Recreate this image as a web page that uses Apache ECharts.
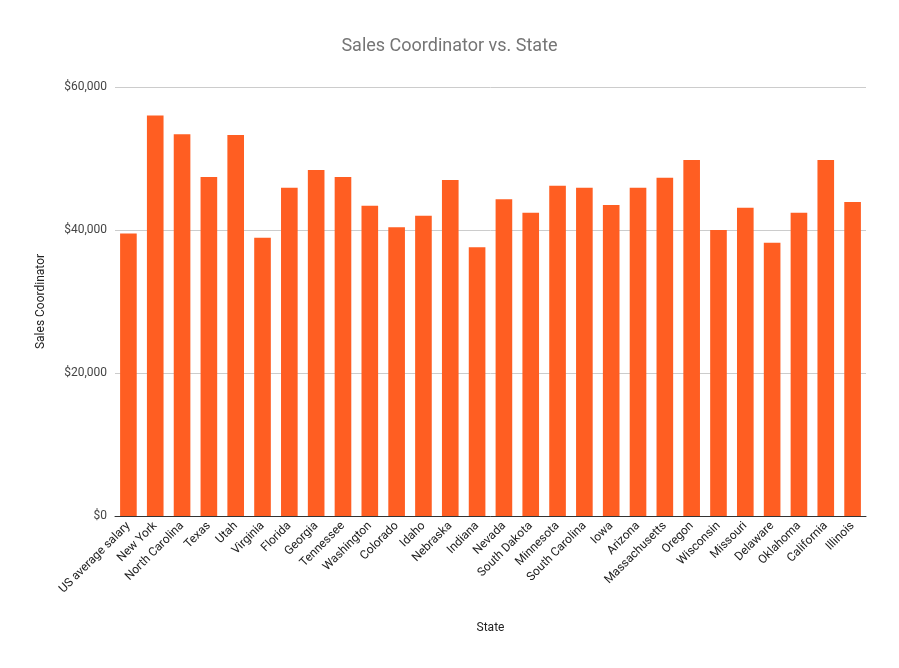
<!DOCTYPE html>
<html>
<head>
<meta charset="utf-8">
<script src="https://cdn.jsdelivr.net/npm/echarts@6/dist/echarts.min.js"></script>
<style>html,body{margin:0;background:#fff}#c{width:899px;height:668px}</style>
</head>
<body>
<div id="c"></div>
<script>
var states = ['US average salary','New York','North Carolina','Texas','Utah','Virginia','Florida','Georgia','Tennessee','Washington','Colorado','Idaho','Nebraska','Indiana','Nevada','South Dakota','Minnesota','South Carolina','Iowa','Arizona','Massachusetts','Oregon','Wisconsin','Missouri','Delaware','Oklahoma','California','Illinois'];
var salaries = [39500,56000,53400,47400,53300,38900,45900,48400,47400,43400,40400,42000,47000,37600,44300,42400,46200,45900,43500,45900,47300,49800,40000,43100,38200,42400,49800,43900];
var yTicks = {min: 0, max: 60000, interval: 20000};

var chart = echarts.init(document.getElementById('c'));
chart.setOption({
    animation: false,
    title: {
        text: 'Sales Coordinator vs. State',
        left: 'center', top: 32,
        textStyle: {fontFamily: 'Roboto', fontSize: 18, fontWeight: 'normal', color: '#757575'}
    },
    grid: {left: 115, right: 33, top: 87, bottom: 152},
    xAxis: {
        type: 'category',
        data: states,
        name: 'State', nameLocation: 'middle', nameGap: 106,
        nameTextStyle: {fontFamily: 'Roboto', fontSize: 12, color: '#222'},
        axisTick: {show: false},
        axisLine: {lineStyle: {color: '#333'}},
        axisLabel: {rotate: 45, interval: 0, fontFamily: 'Roboto', fontSize: 12, color: '#222', margin: 8}
    },
    yAxis: {
        type: 'value',
        min: yTicks.min, max: yTicks.max, interval: yTicks.interval,
        name: 'Sales Coordinator', nameLocation: 'middle', nameGap: 68,
        nameTextStyle: {fontFamily: 'Roboto', fontSize: 12, color: '#222'},
        axisLine: {show: false},
        axisTick: {show: false},
        splitLine: {lineStyle: {color: '#ccc'}},
        axisLabel: {
            fontFamily: 'Roboto', fontSize: 12, color: '#444',
            formatter: function (v) { return '$' + v.toLocaleString('en-US'); }
        }
    },
    series: [{
        type: 'bar',
        data: salaries,
        barWidth: '62%',
        itemStyle: {color: '#ff5e22'}
    }]
});
</script>
</body>
</html>
